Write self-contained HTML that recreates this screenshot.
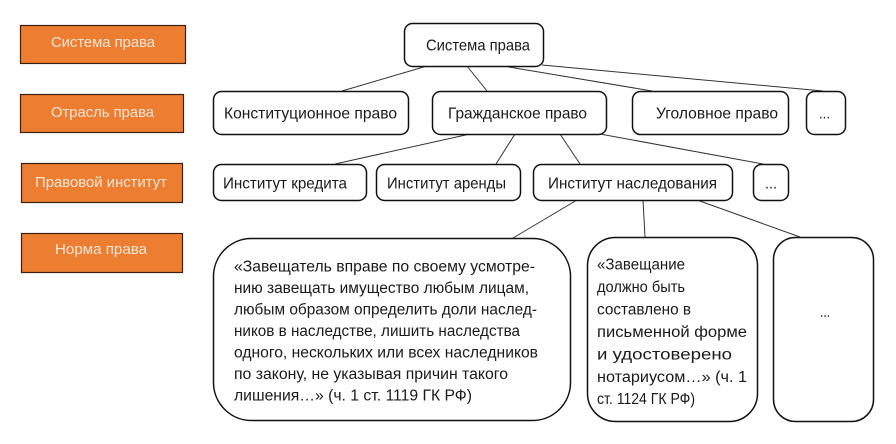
<!DOCTYPE html>
<html><head><meta charset="utf-8"><style>
html,body{margin:0;padding:0;background:#fff;}
svg{display:block;}
text{font-family:"Liberation Sans","Noto Sans CJK SC",sans-serif;fill:#1a1a1a;}
.o{fill:#fde6d6;font-size:14.5px;}
.b{font-size:16px;}
.t{font-size:15.5px;}
</style></head><body>
<svg width="896" height="444" viewBox="0 0 896 444" xmlns="http://www.w3.org/2000/svg">
<rect width="896" height="444" fill="#fff"/>
<!-- orange legend boxes -->
<g fill="#ED7D31" stroke="#3a2010" stroke-width="1.2">
<rect x="20.5" y="25.5" width="165" height="38"/>
<rect x="20.5" y="94.5" width="163" height="38"/>
<rect x="21.5" y="163.5" width="161" height="39"/>
<rect x="21.5" y="233.5" width="161" height="39"/>
</g>
<text class="o" x="51" y="47" textLength="104" lengthAdjust="spacingAndGlyphs">Система права</text>
<text class="o" x="51" y="117" textLength="103" lengthAdjust="spacingAndGlyphs">Отрасль права</text>
<text class="o" x="35" y="187" textLength="132" lengthAdjust="spacingAndGlyphs">Правовой институт</text>
<text class="o" x="55" y="254" textLength="92" lengthAdjust="spacingAndGlyphs">Норма права</text>

<!-- connectors -->
<g stroke="#333" stroke-width="1" fill="none">
<line x1="427" y1="66" x2="342" y2="91"/>
<line x1="467" y1="66" x2="487" y2="91"/>
<line x1="503" y1="66" x2="652" y2="91"/>
<line x1="542" y1="65" x2="823" y2="91"/>
<line x1="470" y1="134" x2="335" y2="164"/>
<line x1="515" y1="134" x2="496" y2="164"/>
<line x1="560" y1="134" x2="580" y2="164"/>
<line x1="600" y1="134" x2="763" y2="164"/>
<line x1="577" y1="200" x2="513" y2="238"/>
<line x1="643" y1="200" x2="645" y2="237"/>
<line x1="697" y1="200" x2="800" y2="237"/>
</g>

<!-- white boxes -->
<g fill="#fff" stroke="#111" stroke-width="1.5">
<rect x="404.5" y="23.5" width="139" height="43" rx="8"/>
<rect x="213.5" y="91.5" width="195" height="43" rx="8"/>
<rect x="432.5" y="91.5" width="174" height="43" rx="8"/>
<rect x="632.5" y="91.5" width="156" height="43" rx="8"/>
<rect x="806.5" y="91.5" width="39" height="43" rx="8"/>
<rect x="213.5" y="164.5" width="153" height="36" rx="8"/>
<rect x="376.5" y="164.5" width="144" height="36" rx="8"/>
<rect x="533.5" y="164.5" width="199" height="36" rx="8"/>
<rect x="753.5" y="164.5" width="35" height="36" rx="8"/>
<rect x="213.5" y="238.5" width="357" height="182" rx="38"/>
<rect x="587.5" y="237.5" width="170" height="184" rx="28"/>
<rect x="773.5" y="237.5" width="100" height="184" rx="22"/>
</g>

<text class="b" x="426" y="50.5" textLength="104" lengthAdjust="spacingAndGlyphs">Система права</text>
<text class="b" x="224" y="118.5" textLength="173" lengthAdjust="spacingAndGlyphs">Конституционное право</text>
<text class="b" x="448" y="118.5" textLength="139" lengthAdjust="spacingAndGlyphs">Гражданское право</text>
<text class="b" x="656" y="118.5" textLength="122" lengthAdjust="spacingAndGlyphs">Уголовное право</text>
<text class="b" x="819" y="118.5" textLength="11" lengthAdjust="spacingAndGlyphs">...</text>
<text class="b" x="223" y="188.5" textLength="124" lengthAdjust="spacingAndGlyphs">Институт кредита</text>
<text class="b" x="387" y="188.5" textLength="119" lengthAdjust="spacingAndGlyphs">Институт аренды</text>
<text class="b" x="548" y="188.5" textLength="169" lengthAdjust="spacingAndGlyphs">Институт наследования</text>
<text class="b" x="765" y="188.5" textLength="12" lengthAdjust="spacingAndGlyphs">...</text>

<text class="t" x="234" y="271.5" textLength="301" lengthAdjust="spacingAndGlyphs">«Завещатель вправе по своему усмотре-</text>
<text class="t" x="234" y="293" textLength="295" lengthAdjust="spacingAndGlyphs">нию завещать имущество любым лицам,</text>
<text class="t" x="234" y="314.5" textLength="303" lengthAdjust="spacingAndGlyphs">любым образом определить доли наслед-</text>
<text class="t" x="234" y="336" textLength="286" lengthAdjust="spacingAndGlyphs">ников в наследстве, лишить наследства</text>
<text class="t" x="234" y="357.5" textLength="304" lengthAdjust="spacingAndGlyphs">одного, нескольких или всех наследников</text>
<text class="t" x="234" y="379" textLength="274" lengthAdjust="spacingAndGlyphs">по закону, не указывая причин такого</text>
<text class="t" x="234" y="400.5" textLength="238" lengthAdjust="spacingAndGlyphs">лишения…» (ч. 1 ст. 1119 ГК РФ)</text>

<text class="t" x="597" y="269.5" textLength="88" lengthAdjust="spacingAndGlyphs">«Завещание</text>
<text class="t" x="597" y="292" textLength="88" lengthAdjust="spacingAndGlyphs">должно быть</text>
<text class="t" x="597" y="314.5" textLength="94" lengthAdjust="spacingAndGlyphs">составлено в</text>
<text class="t" x="597" y="337" textLength="150" lengthAdjust="spacingAndGlyphs">письменной форме</text>
<text class="t" x="597" y="359.5" textLength="135" lengthAdjust="spacingAndGlyphs">и удостоверено</text>
<text class="t" x="597" y="382" textLength="150" lengthAdjust="spacingAndGlyphs">нотариусом…» (ч. 1</text>
<text class="t" x="597" y="404" textLength="98" lengthAdjust="spacingAndGlyphs">ст. 1124 ГК РФ)</text>

<text class="t" x="820" y="317" textLength="10" lengthAdjust="spacingAndGlyphs">...</text>
</svg>
</body></html>
